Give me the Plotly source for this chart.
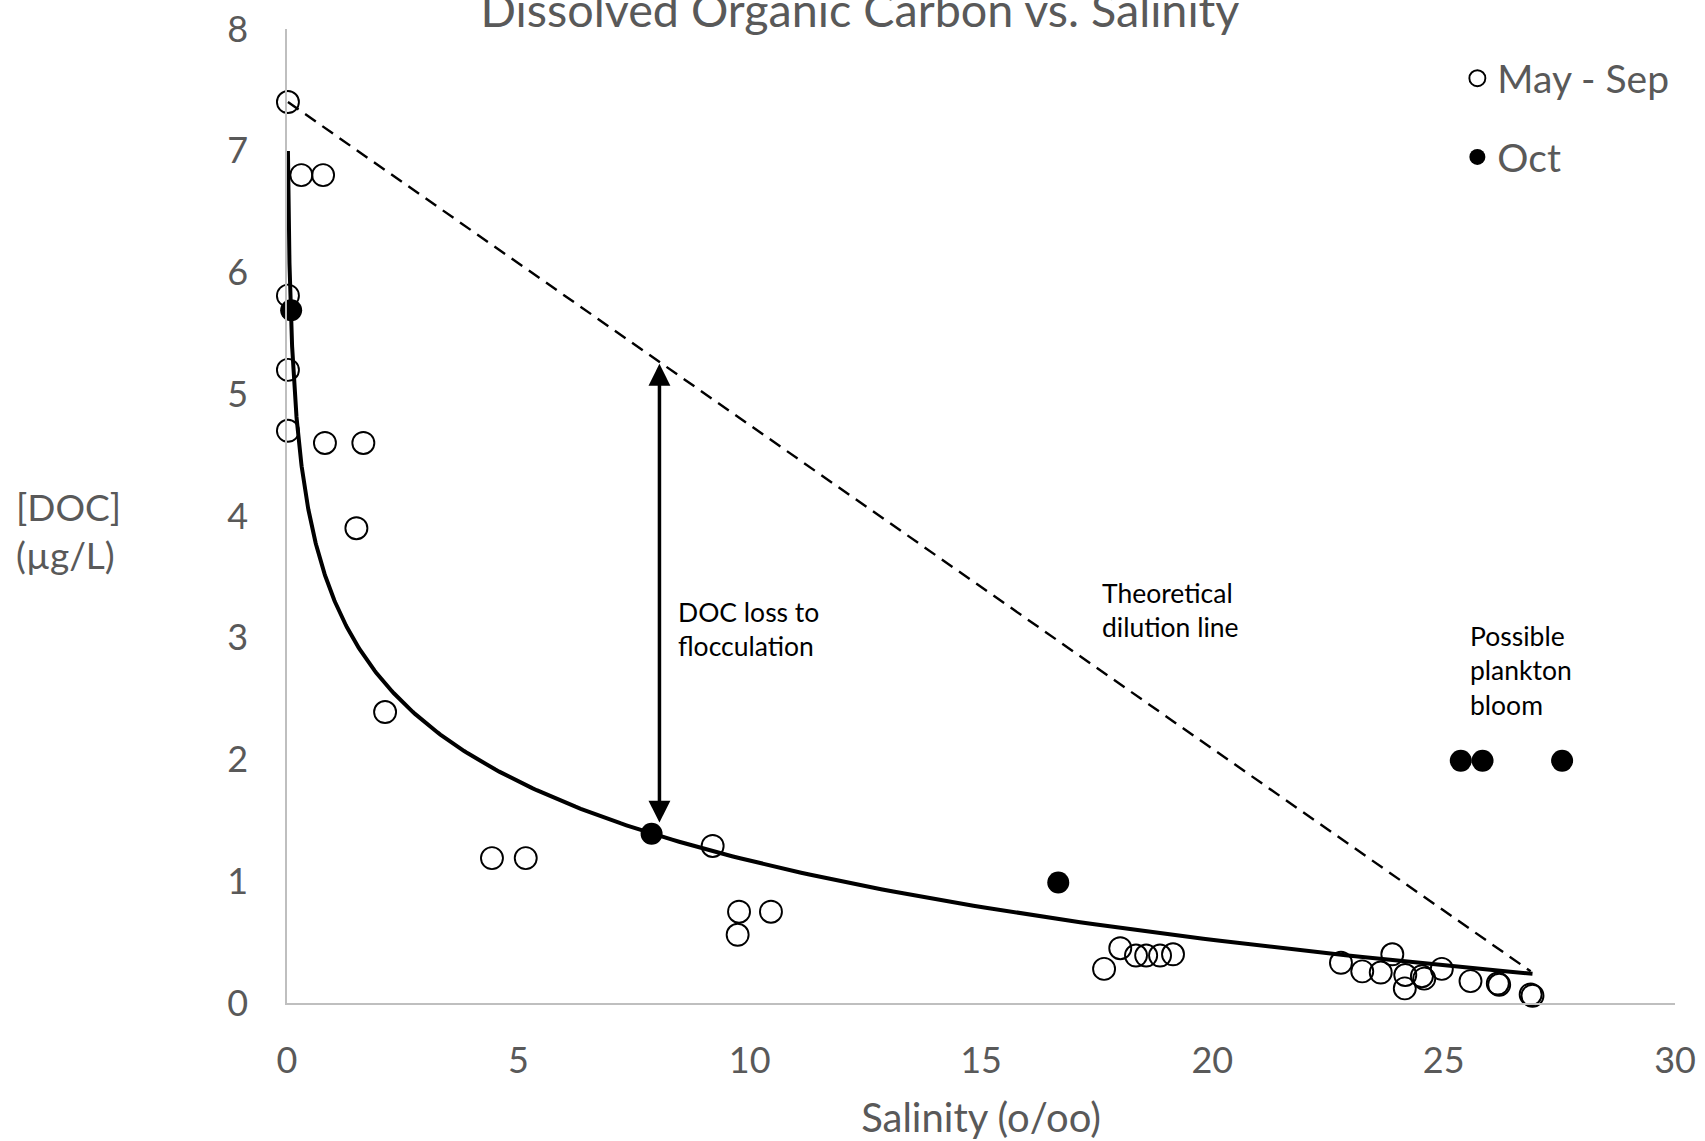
import numpy as np
import plotly.graph_objects as go

# ---- data ----
may_sep_x = [0.02, 0.31, 0.78, 0.02, 0.02, 0.02, 0.82, 1.65, 1.50, 2.12,
             4.43, 5.16, 9.20, 9.77, 10.46, 9.74,
             17.66, 18.01, 18.35, 18.57, 18.87, 19.15,
             22.78, 23.24, 23.64, 23.89, 24.17, 24.16, 24.53, 24.58,
             24.96, 25.58, 26.17, 26.20, 26.88, 26.92]
may_sep_y = [7.40, 6.80, 6.80, 5.81, 5.20, 4.70, 4.60, 4.60, 3.90, 2.39,
             1.19, 1.19, 1.29, 0.75, 0.75, 0.56,
             0.28, 0.45, 0.39, 0.39, 0.39, 0.40,
             0.33, 0.26, 0.25, 0.40, 0.23, 0.12, 0.22, 0.20,
             0.28, 0.18, 0.16, 0.15, 0.07, 0.06]

oct_x = [0.09, 7.88, 16.67, 25.37, 25.84, 27.56]
oct_y = [5.69, 1.39, 0.99, 1.99, 1.99, 1.99]

# theoretical dilution line (end members)
dilution_x = [0.02, 26.88]
dilution_y = [7.40, 0.26]

# logarithmic trendline y = a + b ln(x), coefficients
trend_slope = -0.938
trend_intercept = 3.329
trend_x_range = [0.02, 26.92]

# flocculation-loss arrow
arrow_x = 8.05
arrow_y = [1.47, 5.25]

x_ticks = [0, 5, 10, 15, 20, 25, 30]
y_ticks = [0, 1, 2, 3, 4, 5, 6, 7, 8]

title_text = "Dissolved Organic Carbon vs. Salinity"
x_title = "Salinity (o/oo)"
y_title = "[DOC]<br>(µg/L)"
series_names = ["May - Sep", "Oct"]

notes = [
    ("DOC loss to<br>flocculation", 8.40, 3.07),
    ("Theoretical<br>dilution line", 17.58, 3.23),
    ("Possible<br>plankton<br>bloom", 25.53, 2.73),
]

# ---- figure ----
FONT = "Lato, 'Noto Sans', sans-serif"
GREY = "#595959"
AXIS = "#BFBFBF"

trend_x = np.geomspace(trend_x_range[0], trend_x_range[1], 400)
trend_y = trend_intercept + trend_slope * np.log(trend_x)

fig = go.Figure()

fig.add_trace(go.Scatter(
    x=dilution_x, y=dilution_y, mode="lines",
    line=dict(color="black", width=2.4, dash="13px,8px"),
    showlegend=False, hoverinfo="skip", cliponaxis=False))

fig.add_trace(go.Scatter(
    x=may_sep_x, y=may_sep_y, mode="markers", name=series_names[0],
    legendgroup="a",
    marker=dict(symbol="circle-open", size=22, color="black",
                line=dict(width=1.9, color="black")),
    cliponaxis=False))

fig.add_trace(go.Scatter(
    x=oct_x, y=oct_y, mode="markers", name=series_names[1],
    legendgroup="b",
    marker=dict(symbol="circle", size=22, color="black"),
    cliponaxis=False))

fig.add_trace(go.Scatter(
    x=trend_x, y=trend_y, mode="lines",
    line=dict(color="black", width=4),
    showlegend=False, hoverinfo="skip", cliponaxis=False))

annotations = []
for txt, ax_, ay_ in notes:
    annotations.append(dict(
        x=ax_, y=ay_, xref="x", yref="y", text=txt, showarrow=False,
        xanchor="left", yanchor="middle", align="left",
        font=dict(family=FONT, size=26.5, color="black")))

annotations.append(dict(
    x=arrow_x, y=arrow_y[1], ax=arrow_x, ay=arrow_y[0],
    xref="x", yref="y", axref="x", ayref="y", text="",
    showarrow=True, arrowside="end+start",
    arrowhead=2, startarrowhead=2, arrowsize=1.25, startarrowsize=1.25,
    arrowwidth=3.5, arrowcolor="black"))

annotations.append(dict(
    x=-0.1968, y=0.4846, xref="paper", yref="paper", text=y_title,
    showarrow=False, xanchor="left", yanchor="middle", align="left",
    font=dict(family=FONT, size=37, color=GREY)))

fig.update_layout(
    width=1705, height=1141,
    margin=dict(l=287, r=30, t=29, b=138, pad=0, autoexpand=False),
    paper_bgcolor="white", plot_bgcolor="white",
    font=dict(family=FONT, color=GREY),
    title=dict(text=title_text, x=0.5044, xref="container", xanchor="center",
               y=1 - 11 / 1141, yref="container", yanchor="middle",
               font=dict(family=FONT, size=46.7, color=GREY)),
    xaxis=dict(range=[0, 30], tickvals=x_ticks, showgrid=False,
               zeroline=False, showline=True, linecolor=AXIS, linewidth=1.5,
               ticks="", tickfont=dict(family=FONT, size=36, color=GREY),
               ticklabelstandoff=25, automargin=False,
               title=dict(text=x_title, standoff=28,
                          font=dict(family=FONT, size=40, color=GREY))),
    yaxis=dict(range=[0, 8], tickvals=y_ticks, showgrid=False,
               zeroline=False, showline=True, linecolor=AXIS, linewidth=1.5,
               ticks="", tickfont=dict(family=FONT, size=36, color=GREY),
               ticklabelstandoff=30, automargin=False),
    legend=dict(x=0.8432, y=0.9822, xanchor="left", yanchor="top",
                font=dict(family=FONT, size=39, color=GREY),
                tracegroupgap=25, bgcolor="rgba(0,0,0,0)"),
    annotations=annotations,
    showlegend=True,
)

fig.write_html("out.html")
